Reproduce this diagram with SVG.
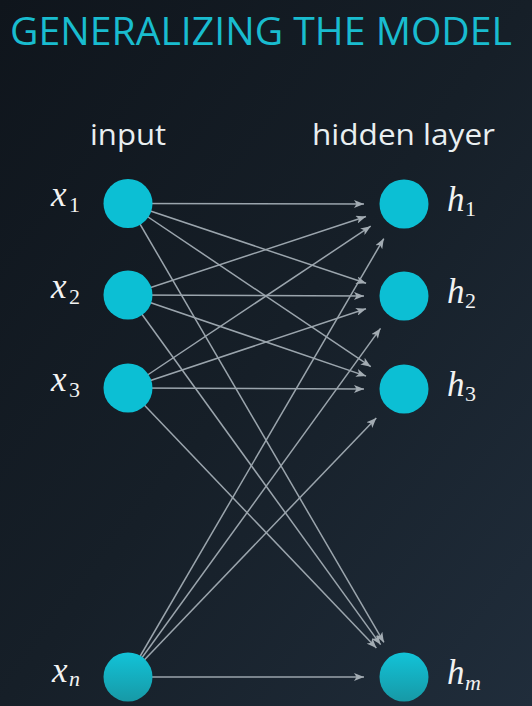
<svg xmlns="http://www.w3.org/2000/svg" width="532" height="706" viewBox="0 0 532 706">
<defs>
<linearGradient id="bg" x1="0" y1="0" x2="1" y2="1">
<stop offset="0" stop-color="#0f151c"/>
<stop offset="0.5" stop-color="#161f28"/>
<stop offset="1" stop-color="#202d3b"/>
</linearGradient>
<linearGradient id="fade" x1="0" y1="0" x2="0" y2="1">
<stop offset="0" stop-color="#12c3d8"/>
<stop offset="1" stop-color="#1799a6"/>
</linearGradient>
<marker id="arr" viewBox="0 0 10 8" refX="10" refY="4" markerWidth="10" markerHeight="8" markerUnits="userSpaceOnUse" orient="auto">
<path d="M0,0 L10,4 L0,8 L2.5,4 z" fill="#a3acb3"/>
</marker>
</defs>
<style>
.title{font-family:"Open Sans","Liberation Sans",sans-serif;font-size:39px;fill:#19bccf}
.hdr{font-family:"Open Sans","Liberation Sans",sans-serif;font-size:30px;fill:#e9eff1}
.var{font-family:"Liberation Serif","DejaVu Serif",serif;font-style:italic;font-size:35px;fill:#f2f2f2}
.sub{font-family:"Liberation Serif","DejaVu Serif",serif;font-style:normal;font-size:22px;fill:#f2f2f2}
.subi{font-family:"Liberation Serif","DejaVu Serif",serif;font-style:italic;font-size:22px;fill:#f2f2f2}
.node{fill:#0cbfd4}
.fnode{fill:url(#fade)}
.edge{stroke:#9ba5ad;stroke-width:1.5;fill:none;marker-end:url(#arr)}
</style>
<rect width="532" height="706" fill="url(#bg)"/>
<text class="title" x="10" y="45" textLength="502" lengthAdjust="spacingAndGlyphs">GENERALIZING THE MODEL</text>
<text class="hdr" x="90" y="145" textLength="76" lengthAdjust="spacingAndGlyphs">input</text>
<text class="hdr" x="312" y="145" textLength="183" lengthAdjust="spacingAndGlyphs">hidden layer</text>
<g id="connectors">
<line class="edge" x1="128" y1="203.5" x2="364" y2="204"/>
<line class="edge" x1="128" y1="203.5" x2="366.1" y2="283.3"/>
<line class="edge" x1="128" y1="203.5" x2="370.8" y2="366.7"/>
<line class="edge" x1="128" y1="203.5" x2="383.9" y2="642.4"/>
<line class="edge" x1="128" y1="295" x2="366" y2="216.5"/>
<line class="edge" x1="128" y1="295" x2="364" y2="296"/>
<line class="edge" x1="128" y1="295" x2="366.1" y2="376.1"/>
<line class="edge" x1="128" y1="295" x2="380.6" y2="644.6"/>
<line class="edge" x1="128" y1="388" x2="370.7" y2="226.2"/>
<line class="edge" x1="128" y1="388" x2="366" y2="308.7"/>
<line class="edge" x1="128" y1="388" x2="364" y2="389"/>
<line class="edge" x1="128" y1="388" x2="376.4" y2="648.1"/>
<line class="edge" x1="128" y1="677" x2="383.8" y2="238.6"/>
<line class="edge" x1="128" y1="677" x2="380.5" y2="328.4"/>
<line class="edge" x1="128" y1="677" x2="376.3" y2="417.9"/>
<line class="edge" x1="128" y1="677" x2="364" y2="677"/>
</g>
<g id="x1"><circle class="node" cx="128" cy="203.5" r="24.5"/><text class="var" x="51" y="206">x</text><text class="sub" x="69" y="212">1</text></g>
<g id="x2"><circle class="node" cx="128" cy="295" r="24.5"/><text class="var" x="51" y="298">x</text><text class="sub" x="69" y="304">2</text></g>
<g id="x3"><circle class="node" cx="128" cy="388" r="24.5"/><text class="var" x="51" y="391">x</text><text class="sub" x="69" y="397">3</text></g>
<g id="xn"><circle class="fnode" cx="128" cy="677" r="24.5"/><text class="var" x="52" y="682">x</text><text class="subi" x="69" y="686">n</text></g>
<g id="h1"><circle class="node" cx="404" cy="204" r="24.5"/><text class="var" x="447" y="211">h</text><text class="sub" x="465" y="216">1</text></g>
<g id="h2"><circle class="node" cx="404" cy="296" r="24.5"/><text class="var" x="447" y="303">h</text><text class="sub" x="465" y="308">2</text></g>
<g id="h3"><circle class="node" cx="404" cy="389" r="24.5"/><text class="var" x="447" y="396">h</text><text class="sub" x="465" y="401">3</text></g>
<g id="hm"><circle class="fnode" cx="404" cy="677" r="24.5"/><text class="var" x="447" y="684">h</text><text class="subi" x="465" y="690">m</text></g>
</svg>
